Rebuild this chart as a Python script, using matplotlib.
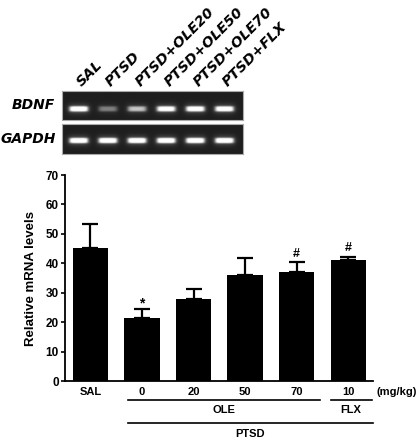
import numpy as np
import matplotlib
matplotlib.use("Agg")
import matplotlib.pyplot as plt

# ---- data ----
lanes = ["SAL", "PTSD", "PTSD+OLE20", "PTSD+OLE50", "PTSD+OLE70", "PTSD+FLX"]
bdnf_band = [1.0, 0.35, 0.6, 0.92, 0.95, 0.95]
gapdh_band = [1.0, 1.0, 1.0, 1.0, 1.0, 1.0]

dose_labels = ["SAL", "0", "20", "50", "70", "10"]
means = [45.3, 21.3, 27.8, 36.0, 37.1, 41.0]
sem = [7.9, 3.1, 3.4, 5.7, 3.2, 1.2]
marks = ["", "*", "", "", "#", "#"]

plt.rcParams['font.family'] = ['Liberation Sans', 'DejaVu Sans']
plt.rcParams['font.weight'] = 'bold'

fig = plt.figure(figsize=(4.17, 4.40), dpi=100)
W, H = 417.0, 440.0


def px_axes(x0, y0, x1, y1):
    return fig.add_axes([x0 / W, 1 - y1 / H, (x1 - x0) / W, (y1 - y0) / H])


# ---- gel images ----
def gel(ax, band, yc):
    xs = np.linspace(-0.57, 5.63, 600)
    ys = np.linspace(0, 1, 100)
    X, Y = np.meshgrid(xs, ys)
    img = np.full(X.shape, 0.12)
    for i, b in enumerate(band):
        core = np.exp(-((X - i) / 0.32) ** 6) * np.exp(-((Y - yc) / 0.09) ** 4)
        halo = np.exp(-((X - i) / 0.38) ** 4) * np.exp(-((Y - yc) / 0.16) ** 2)
        img += b * (0.85 * core + 0.25 * halo)
    ax.imshow(np.clip(img, 0, 1), cmap="gray", vmin=0, vmax=1, aspect="auto",
              extent=[-0.57, 5.63, 1, 0], interpolation="bilinear")
    ax.set_xlim(-0.57, 5.63)
    ax.set_ylim(1, 0)
    ax.set_xticks([])
    ax.set_yticks([])
    for s in ax.spines.values():
        s.set_color("#aaaaaa")
        s.set_linewidth(0.8)


gax1 = px_axes(61.7, 90.7, 242.7, 120)
gel(gax1, bdnf_band, 0.63)
gax2 = px_axes(61.7, 124.3, 242.7, 154.3)
gel(gax2, gapdh_band, 0.55)

gax1.text(-0.04, 0.5, "BDNF", transform=gax1.transAxes, ha="right", va="center",
          fontsize=10, fontstyle="italic", fontweight="bold", family="DejaVu Sans")
gax2.text(-0.03, 0.5, "GAPDH", transform=gax2.transAxes, ha="right", va="center",
          fontsize=10, fontstyle="italic", fontweight="bold", family="DejaVu Sans")

for i, name in enumerate(lanes):
    gax1.text(i + 0.12, 1.14, name, transform=gax1.get_xaxis_transform(),
              rotation=45, rotation_mode="anchor", ha="left", va="baseline",
              fontsize=10.3, fontstyle="italic", fontweight="bold", family="DejaVu Sans")

# ---- bar chart ----
ax = px_axes(65, 175, 373, 381)
x = np.arange(len(means))
ax.bar(x, means, width=0.68, color="black", zorder=2)
ax.errorbar(x, means, yerr=[np.zeros(len(sem)), sem], fmt="none", ecolor="black",
            elinewidth=1.6, capsize=5.5, capthick=1.6, zorder=1)
for xi, m, s, mk in zip(x, means, sem, marks):
    if mk:
        ax.annotate(mk, (xi, m + s), xytext=(0, -1 if mk == "*" else 2),
                    textcoords="offset points", ha="center", va="bottom",
                    fontsize=10 if mk == "*" else 9, fontweight="bold")

ax.set_xlim(-0.495, 5.485)
ax.set_ylim(0, 70)
ax.set_yticks(range(0, 71, 10))
ax.set_xticks([])
ax.tick_params(axis="y", length=3, width=1.2, labelsize=8.5, pad=1.5)
for s in ["top", "right"]:
    ax.spines[s].set_visible(False)
ax.spines["left"].set_linewidth(1.3)
ax.spines["bottom"].set_linewidth(1.3)
ax.set_ylabel("Relative mRNA levels", fontsize=9.5, fontweight="bold", labelpad=6)

tr = ax.get_xaxis_transform()
for xi, lab in zip(x, dose_labels):
    ax.text(xi, -0.052, lab, transform=tr, ha="center", va="center", fontsize=8)
ax.text(5.56, -0.052, "(mg/kg)", transform=tr, ha="left", va="center", fontsize=8)

ax.plot([0.72, 4.46], [-0.092, -0.092], transform=tr, color="black", lw=1.2, clip_on=False)
ax.plot([4.67, 5.46], [-0.092, -0.092], transform=tr, color="black", lw=1.2, clip_on=False)
ax.text(2.59, -0.141, "OLE", transform=tr, ha="center", va="center", fontsize=8)
ax.text(5.06, -0.141, "FLX", transform=tr, ha="center", va="center", fontsize=8)
ax.plot([0.72, 5.49], [-0.205, -0.205], transform=tr, color="black", lw=1.2, clip_on=False)
ax.text(3.1, -0.257, "PTSD", transform=tr, ha="center", va="center", fontsize=8)

fig.savefig("out.png", dpi=100)
